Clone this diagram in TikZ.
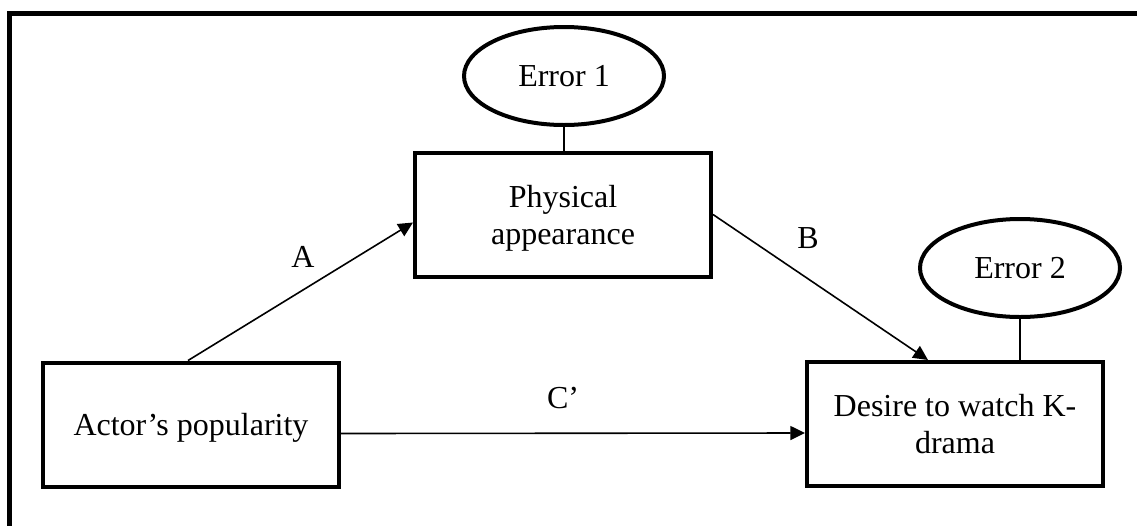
\documentclass[tikz,border=0pt]{standalone}
\usepackage{fontspec}
\setmainfont{Liberation Serif}
\usetikzlibrary{arrows.meta,calc,shapes.geometric}
\tikzset{
  txt/.style={font=\fontsize{24}{27.75}\selectfont, align=center},
  box/.style={txt, draw, line width=3pt, rectangle, minimum width=222pt, minimum height=93pt, inner sep=0pt, text depth=0pt},
  err/.style={txt, draw, line width=3pt, ellipse, minimum width=150pt, minimum height=73.5pt, inner sep=0pt, text depth=0pt},
  link/.style={line width=1.2pt},
  arr/.style={link, -{Triangle[length=11pt,width=10.5pt]}},
  lbl/.style={txt, inner sep=0pt}
}
\begin{document}
\begin{tikzpicture}[x=0.75pt,y=-0.75pt]
\useasboundingbox (0,0) rectangle (1137,525);
% outer frame (only top and left edges visible)
\draw[line width=3.75pt, line join=miter] (9.5,530) -- (9.5,13.5) -- (1142,13.5);
% nodes
\node[box] (phys) at (563,214.5) {Physical\\appearance};
\node[box] (act) at (191,424.5) {Actor’s popularity};
\node[box] (des) at (955,424) {Desire to watch K-\\drama};
\node[err] (e1) at (564,76) {Error 1};
\node[err] (e2) at (1020,268) {Error 2};
% connectors
\draw[link] (e1.south) -- (e1.south |- phys.north);
\draw[link] (e2.south) -- (e2.south |- des.north);
\draw[arr] ($(act.north)+(-3,0)$) -- ($(phys.west)+(0,8)$);
\draw[arr] (phys.east) -- ($(des.north)+(-27,0)$);
\draw[arr] ($(act.east)+(0,9)$) -- ($(des.west)+(0,9)$);
% labels
\node[lbl] (la) at (303,257) {A};
\node[lbl] (lb) at (808,238) {B};
\node[lbl] (lc) at (563,398) {C’};
\end{tikzpicture}
\end{document}
